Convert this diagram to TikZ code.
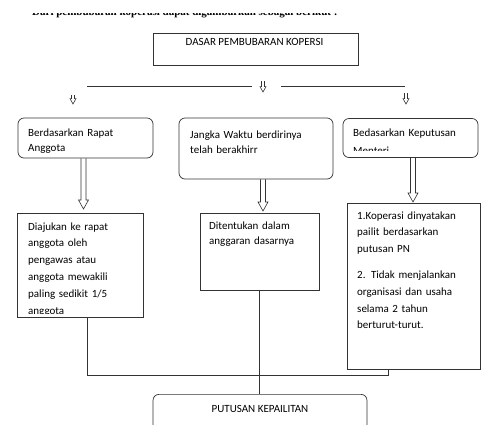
\documentclass[tikz,border=0pt]{standalone}
\usepackage{fontspec}
\setmainfont{Carlito}
\newfontfamily\docfont{Liberation Serif}
\usetikzlibrary{calc}

\tikzset{
  box/.style={draw=black!80, line width=0.7pt, inner sep=0pt},
  rbox/.style={box, rounded corners=6pt},
  link/.style={draw=black!80, line width=0.7pt},
  txt/.style={anchor=base west, align=left, inner sep=0pt, font=\fontsize{11}{15}\selectfont},
  wide/.style={txt, font=\fontsize{11}{16.8}\selectfont},
  head/.style={anchor=base west, inner sep=0pt, font=\docfont\bfseries\fontsize{11}{13}\selectfont},
}

% open (outlined) arrow going down from #2 to #3, #1 scales it
\newcommand{\hollowarrow}[3][1]{%
  \draw[link, line width=0.6pt, line join=miter]
    ($(#2)+(-2.5*#1,0)$) -- ($(#3)+(-2.5*#1,-9*#1)$) -- ($(#3)+(-5*#1,-9*#1)$) -- (#3)
    -- ($(#3)+(5*#1,-9*#1)$) -- ($(#3)+(2.5*#1,-9*#1)$) -- ($(#2)+(2.5*#1,0)$);}

\begin{document}
\begin{tikzpicture}[x=1pt,y=-1pt]
  \clip (0,0) rectangle (483,424);
  % heading line, cut off at the top
  \begin{scope}
    \clip (0,13) rectangle (483,20);
    \node[head] (hd) at (32,15.5) {Dari pembubaran koperasi dapat digambarkan sebagai berikut :};
  \end{scope}

  \node[box, minimum width=205, minimum height=32] (dasar) at (255.5,49) {};
  \node[anchor=base, inner sep=0pt, font=\fontsize{11}{13}\selectfont] (dasart) at (254.5,45) {DASAR PEMBUBARAN KOPERSI};

  % line with the small arrows
  \coordinate (hl) at (87,86);
  \coordinate (hm1) at (252,86);
  \coordinate (hm2) at (281,86);
  \coordinate (hr) at (405,86);
  \draw[link] (hl) -- (hm1);
  \draw[link] (hm2) -- (hr);
  \coordinate (sl) at (73,95);   \coordinate (slt) at (73,104);
  \coordinate (sm) at (263,81);  \coordinate (smt) at (263,92);
  \coordinate (sr) at (406,93);  \coordinate (srt) at (406,104);
  \hollowarrow[0.6]{sl}{slt}
  \hollowarrow[0.6]{sm}{smt}
  \hollowarrow[0.6]{sr}{srt}

  % first row
  \node[rbox, minimum width=135, minimum height=40] (rapat) at (85.5,138) {};
  \node[rbox, minimum width=154, minimum height=61] (jangka) at (256,148.5) {};
  \node[rbox, minimum width=135, minimum height=39] (menteri) at (410.5,138) {};
  \node[txt, text width=120] (rapatt) at (28,136) {Berdasarkan Rapat\\Anggota};
  \node[txt, text width=140] (jangkat) at (190,138) {Jangka Waktu berdirinya\\telah berakhirr};
  \begin{scope}
    \clip (343,119) rectangle (478,150);
    \node[txt, text width=124] (menterit) at (353,136) {Bedasarkan Keputusan\\[3pt]Menteri};
  \end{scope}

  % second row
  \node[box, minimum width=126, minimum height=104] (ajukan) at (80,265) {};
  \node[box, minimum width=119, minimum height=77] (tentu) at (259.5,251.5) {};
  \node[box, minimum width=133, minimum height=166] (pailit) at (413.5,286) {};
  \begin{scope}
    \clip (17,213) rectangle (143,313);
    \node[wide, text width=112] (ajukant) at (28,230) {Diajukan ke rapat\\anggota oleh\\pengawas atau\\anggota mewakili\\paling sedikit 1/5\\anggota};
  \end{scope}
  \node[txt, font=\fontsize{11}{15.5}\selectfont, text width=105] (tentut) at (209,229) {Ditentukan dalam\\anggaran dasarnya};
  \node[wide, text width=122] (pailitt) at (357,219) {1.Koperasi dinyatakan\\pailit berdasarkan\\putusan PN\\[9pt]2. Tidak menjalankan\\organisasi dan usaha\\selama 2 tahun\\berturut-turut.};

  % open arrows between the rows
  \coordinate (t1) at (83.5,209);
  \coordinate (t2) at (263,211);
  \coordinate (t3) at (413,202);
  \hollowarrow{rapat.south -| t1}{t1}
  \hollowarrow{jangka.south -| t2}{t2}
  \hollowarrow{menteri.south -| t3}{t3}

  % bottom
  \node[rbox, minimum width=214, minimum height=50, anchor=north] (putus) at (260,394) {};
  \node[anchor=base, inner sep=0pt, font=\fontsize{11}{13}\selectfont] (putust) at (260,412) {PUTUSAN KEPAILITAN};
  \coordinate (j1) at (87,375);
  \coordinate (j2) at (388,375);
  \draw[link] (ajukan.south -| j1) -- (j1) -- (j2) -- (pailit.south -| j2);
  \draw[link] (tentu.south) -- (putus.north -| tentu.south);
\end{tikzpicture}
\end{document}
